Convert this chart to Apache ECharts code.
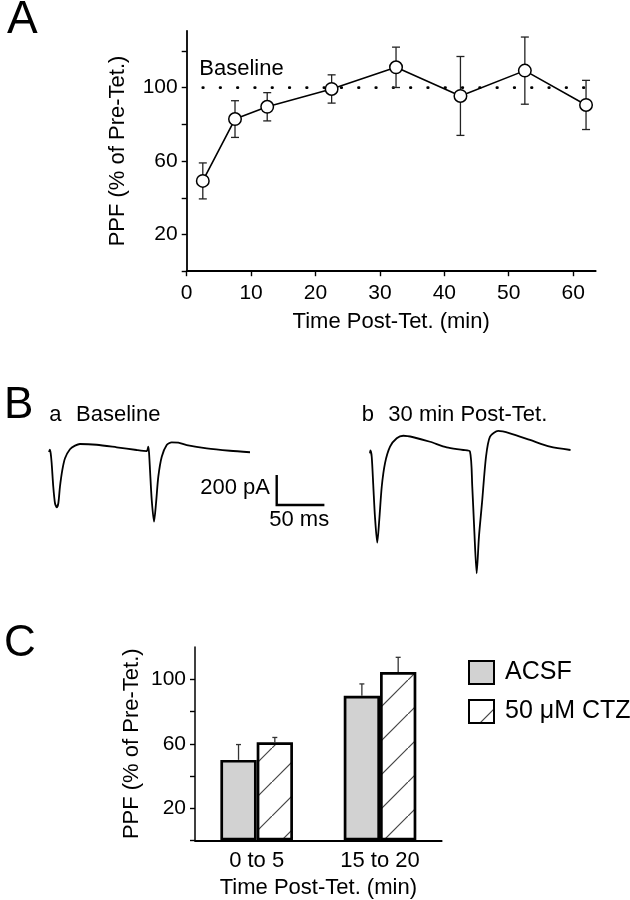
<!DOCTYPE html>
<html>
<head>
<meta charset="utf-8">
<script src="https://cdn.jsdelivr.net/npm/echarts@6/dist/echarts.min.js"></script>
<style>html,body{margin:0;padding:0;background:#fff;}#c{width:630px;height:900px;}</style>
</head>
<body>
<div id="c"></div>
<script>
// ---------- Panel A data ----------
const timesA = [2.5, 7.5, 12.5, 22.5, 32.5, 42.5, 52.5, 62];
const ppfA   = [49.2, 82.9, 89.6, 99.3, 111.1, 95.5, 109.3, 90.6];
const errA   = [9.8, 10, 7.7, 7.7, 11, 21.5, 18.3, 13.4];
const baselineA = [[2.5, 100], [63.8, 100]];
const yTickLabelsA = [20, 60, 100];
const xTicksA = [0, 10, 20, 30, 40, 50, 60];

// ---------- Panel B data (time in ms, current in pA) ----------
const traceBaseline = [[19.9,-13],[20.8,3],[21.7,-22],[22.7,-87],[24.4,-245],[26.2,-355],[28.0,-382],[29.7,-355],[31.4,-245],[33.9,-133],[36.7,-55],[41.9,5],[47.2,29],[52.4,40],[69.9,35],[90.9,18],[111.8,0],[122.3,-7],[124.0,22],[124.8,-20],[125.8,-133],[127.6,-333],[130.0,-478],[132.1,-355],[134.5,-178],[138.1,-45],[143.3,33],[148.5,51],[155.5,49],[164.3,33],[185.2,11],[209.6,-5],[230.6,-15]];
const tracePostTet = [[356.4,-22],[356.8,-3],[358.2,-45],[359.9,-245],[361.6,-445],[364.0,-618],[366.1,-467],[368.7,-245],[372.1,-89],[377.4,22],[384.4,78],[391.3,95],[401.8,85],[419.3,55],[436.8,18],[454.2,0],[461.2,-11],[463.6,-245],[465.7,-533],[468.2,-822],[470.6,-578],[473.8,-353],[478.0,-45],[482.2,89],[490.8,127],[503.1,111],[524.1,67],[545.1,22],[566.6,0]];
const scaleBarOrigin = [258.6, -366.7];
const scaleBarMs = 50;
const scaleBarPA = 200;

// ---------- Panel C data ----------
const categoriesC = ['0 to 5', '15 to 20'];
const acsfC    = [50, 89.8];
const acsfErrC = [9.5, 7.3];
const ctzC     = [60.9, 104.5];
const ctzErrC  = [3, 9.1];
const yTickLabelsC = [20, 60, 100];

const FONT = 'Liberation Sans, Arial, Helvetica, sans-serif';
const BAR_W = 36.3;

// hatch pattern
const hatch = document.createElement('canvas');
hatch.width = 34; hatch.height = 34;
(function(){
  const g = hatch.getContext('2d');
  g.fillStyle = '#fff'; g.fillRect(0,0,34,34);
  g.strokeStyle = '#444'; g.lineWidth = 1.2;
  g.beginPath();
  g.moveTo(-2, 36); g.lineTo(36, -2);
  g.stroke();
})();

const chart = echarts.init(document.getElementById('c'), null, {renderer: 'canvas'});

const axisCommon = {
  axisLine: {show: true, lineStyle: {color: '#000', width: 1.8}},
  axisTick: {show: true, inside: false, length: 5, lineStyle: {color: '#000', width: 1.4}},
  splitLine: {show: false},
  axisLabel: {color: '#000', fontSize: 21, fontFamily: FONT},
  nameTextStyle: {color: '#000', fontSize: 22, fontFamily: FONT}
};

function errRenderA(params, api) {
  const x = api.value(0), y = api.value(1), e = api.value(2);
  const t = api.coord([x, y + e]), b = api.coord([x, y - e]);
  const cap = 4;
  const st = {stroke: '#222', lineWidth: 1.3};
  return {type: 'group', children: [
    {type: 'line', shape: {x1: t[0], y1: t[1], x2: b[0], y2: b[1]}, style: st},
    {type: 'line', shape: {x1: t[0]-cap, y1: t[1], x2: t[0]+cap, y2: t[1]}, style: st},
    {type: 'line', shape: {x1: b[0]-cap, y1: b[1], x2: b[0]+cap, y2: b[1]}, style: st}
  ]};
}
function errRenderC(params, api) {
  const c = api.value(0), y = api.value(1), e = api.value(2), s = api.value(3);
  const base = api.coord([c, y]), top = api.coord([c, y + e]);
  const x = base[0] + s * BAR_W / 2;
  const st = {stroke: '#333', lineWidth: 1.3};
  return {type: 'group', children: [
    {type: 'line', shape: {x1: x, y1: base[1], x2: x, y2: top[1]}, style: st},
    {type: 'line', shape: {x1: x-2.5, y1: top[1], x2: x+2.5, y2: top[1]}, style: st}
  ]};
}

const txt = (text, x, y, size, align) => ({type: 'text', x: x, y: y, z: 100,
  style: {text: text, fontSize: size, fontFamily: FONT, fill: '#000', align: align || 'left', verticalAlign: 'middle'}});

const option = {
  backgroundColor: '#fff',
  animation: false,
  grid: [
    {left: 186.7, right: 34.3, top: 30.8, bottom: 628.8, outerBoundsMode: 'none', containLabel: false},
    {left: 30, right: 27.6, top: 420, height: 165, outerBoundsMode: 'none', containLabel: false},
    {left: 195, right: 188.3, top: 647, bottom: 59.5, outerBoundsMode: 'none', containLabel: false}
  ],
  xAxis: [
    Object.assign({}, axisCommon, {gridIndex: 0, type: 'value', min: 0, max: 63.5, interval: 10,
      name: 'Time Post-Tet. (min)', nameLocation: 'middle', nameGap: 40,
      axisLabel: Object.assign({}, axisCommon.axisLabel, {margin: 12, showMaxLabel: false,
        formatter: v => xTicksA.includes(v) ? String(v) : ''})}),
    {gridIndex: 1, type: 'value', min: 0, max: 600, show: false},
    Object.assign({}, axisCommon, {gridIndex: 2, type: 'category', data: categoriesC,
      axisTick: {show: false},
      name: 'Time Post-Tet. (min)', nameLocation: 'middle', nameGap: 36,
      axisLabel: Object.assign({}, axisCommon.axisLabel, {fontSize: 22, margin: 9})})
  ],
  yAxis: [
    Object.assign({}, axisCommon, {gridIndex: 0, type: 'value', min: 0, max: 131, interval: 20,
      name: 'PPF (% of Pre-Tet.)', nameLocation: 'middle', nameGap: 58,
      axisLabel: Object.assign({}, axisCommon.axisLabel, {margin: 9, showMaxLabel: false,
        formatter: v => yTickLabelsA.includes(v) ? String(v) : ''})}),
    {gridIndex: 1, type: 'value', min: -900, max: 200, show: false},
    Object.assign({}, axisCommon, {gridIndex: 2, type: 'value', min: 0, max: 120, interval: 20,
      axisLine: {show: true, lineStyle: {color: '#000', width: 1.5}},
      name: 'PPF (% of Pre-Tet.)', nameLocation: 'middle', nameGap: 52,
      axisLabel: Object.assign({}, axisCommon.axisLabel, {margin: 9, showMaxLabel: false,
        formatter: v => yTickLabelsC.includes(v) ? String(v) : ''})})
  ],
  legend: {
    data: ['ACSF', '50 μM CTZ'], orient: 'vertical', left: 468, top: 660,
    itemWidth: 25, itemHeight: 23, itemGap: 14, padding: 0, icon: 'rect',
    selectedMode: false,
    textStyle: {color: '#000', fontSize: 25, fontFamily: FONT, padding: [0, 0, 0, 6]}
  },
  series: [
    {type: 'line', xAxisIndex: 0, yAxisIndex: 0, data: baselineA, symbol: 'none', silent: true,
      lineStyle: {color: '#000', width: 2.8, type: [0.5, 16.8], cap: 'round'}, z: 1},
    {type: 'custom', xAxisIndex: 0, yAxisIndex: 0, renderItem: errRenderA,
      data: timesA.map((t, i) => [t, ppfA[i], errA[i]]), z: 2},
    {type: 'line', xAxisIndex: 0, yAxisIndex: 0, data: timesA.map((t, i) => [t, ppfA[i]]),
      symbol: 'circle', symbolSize: 12.5, z: 3,
      lineStyle: {color: '#000', width: 1.6},
      itemStyle: {color: '#fff', borderColor: '#000', borderWidth: 1.5}},
    {type: 'line', xAxisIndex: 1, yAxisIndex: 1, data: traceBaseline, symbol: 'none', smooth: 0.25,
      lineStyle: {color: '#000', width: 1.8}},
    {type: 'line', xAxisIndex: 1, yAxisIndex: 1, data: tracePostTet, symbol: 'none', smooth: 0.25,
      lineStyle: {color: '#000', width: 1.8}},
    {type: 'line', xAxisIndex: 1, yAxisIndex: 1, symbol: 'none',
      data: [[scaleBarOrigin[0], scaleBarOrigin[1] + scaleBarPA], scaleBarOrigin, [scaleBarOrigin[0] + scaleBarMs, scaleBarOrigin[1]]],
      lineStyle: {color: '#000', width: 2.4, join: 'miter'}},
    {name: 'ACSF', type: 'bar', xAxisIndex: 2, yAxisIndex: 2, data: acsfC, barWidth: BAR_W, barGap: '0%',
      itemStyle: {color: '#d2d2d2', borderColor: '#000', borderWidth: 2.7}},
    {name: '50 μM CTZ', type: 'bar', xAxisIndex: 2, yAxisIndex: 2, data: ctzC, barWidth: BAR_W, barGap: '0%',
      itemStyle: {color: {image: hatch, repeat: 'repeat'}, borderColor: '#000', borderWidth: 2.7}},
    {type: 'custom', xAxisIndex: 2, yAxisIndex: 2, renderItem: errRenderC, z: 5,
      data: acsfC.map((v, i) => [i, v, acsfErrC[i], -1]).concat(ctzC.map((v, i) => [i, v, ctzErrC[i], 1]))}
  ],
  graphic: [
    txt('A', 7, 20.5, 46),
    txt('Baseline', 199.3, 69.3, 22),
    txt('B', 4, 406, 44),
    txt('a', 49.3, 415, 22),
    txt('Baseline', 76, 415, 22),
    txt('b', 361.7, 415, 22),
    txt('30 min Post-Tet.', 388.3, 415, 22),
    txt('200 pA', 270, 488.3, 22, 'right'),
    txt('50 ms', 299.2, 520, 22, 'center'),
    txt('C', 4, 644, 44)
  ]
};
chart.setOption(option);
</script>
</body>
</html>
